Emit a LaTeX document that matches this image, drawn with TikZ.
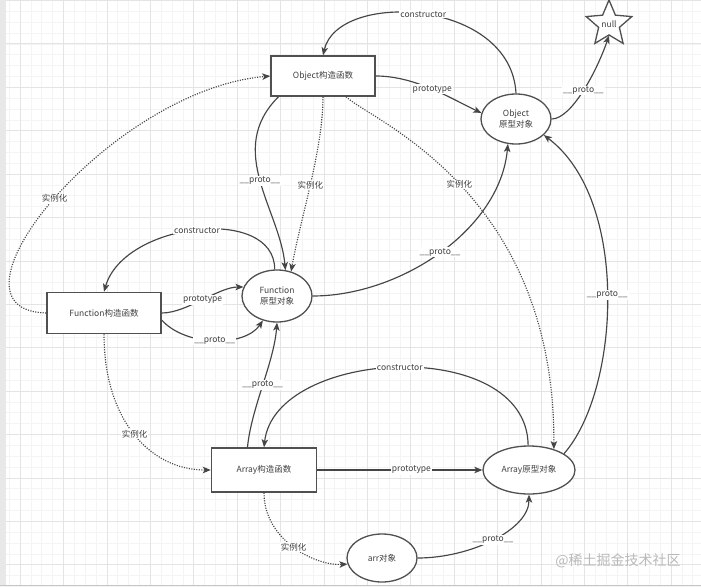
\documentclass[tikz,border=0pt]{standalone}
\usepackage{fontspec}
\setmainfont{Noto Sans CJK SC}
\usetikzlibrary{arrows.meta,shapes.geometric}
\definecolor{ln}{HTML}{454545}
\definecolor{bd}{HTML}{505050}
\definecolor{txt}{HTML}{404040}
\definecolor{gmin}{HTML}{F4F4F4}
\definecolor{gmaj}{HTML}{E4E4E4}
\tikzset{
  box/.style={draw=bd, line width=1.5pt, rectangle, inner sep=0pt, fill=white,
    font=\fontsize{8.5}{10.5}\selectfont, text=txt, align=center},
  oval/.style={draw=bd, line width=1.3pt, ellipse, inner sep=0pt, fill=white,
    font=\fontsize{8.5}{10.5}\selectfont, text=txt, align=center},
  nullstar/.style={draw=bd, line width=1.3pt, star, star points=5, star point ratio=2.2,
    minimum size=48pt, inner sep=0pt, fill=white, font=\fontsize{8.5}{10.5}\selectfont, text=txt},
  lbl/.style={fill=white, inner sep=1pt, font=\fontsize{8.5}{10}\selectfont, text=txt},
  edge/.style={draw=ln, line width=1.15pt, -{Stealth[length=8pt,width=6.5pt,inset=2pt]}},
  dotedge/.style={edge, dash pattern=on 1.1pt off 1.4pt},
}
\begin{document}
\begin{tikzpicture}[x=1pt,y=-1pt]
\useasboundingbox (0,0) rectangle (701,586);
\fill[white] (0,0) rectangle (701,586);
\begin{scope}
\clip (0,0) rectangle (701,586);
\foreach \i in {0,...,68} {\draw[gmin, line width=0.5pt] ({-23.4+\i*10.85},0) -- ++(0,586);}
\foreach \i in {0,...,55} {\draw[gmin, line width=0.5pt] (0,{0.4+\i*10.85}) -- ++(701,0);}
\foreach \i in {0,...,17} {\draw[gmaj, line width=0.6pt] ({-23.4+\i*43.4},0) -- ++(0,586);}
\foreach \i in {0,...,14} {\draw[gmaj, line width=0.6pt] (0,{0.4+\i*43.4}) -- ++(701,0);}
\end{scope}
\fill[gray!18] (0,0) rectangle (6,586);
\draw[gray!45, line width=1pt] (0,585) -- (701,585);

% nodes
\node[box, minimum width=104pt, minimum height=40pt] (objc) at (323,76) {Object构造函数};
\node[oval, minimum width=70pt, minimum height=50pt] (objp) at (516,119) {Object\\原型对象};
\node[nullstar] (null) at (609,24) {null};
\node[box, minimum width=114pt, minimum height=41pt] (funcc) at (104,313) {Function构造函数};
\node[oval, minimum width=70pt, minimum height=52pt] (funcp) at (277,296) {Function\\原型对象};
\node[box, minimum width=105pt, minimum height=44pt] (arrc) at (264,470) {Array构造函数};
\node[oval, minimum width=92pt, minimum height=48pt] (arrp) at (529,470) {Array原型对象};
\node[oval, minimum width=70pt, minimum height=48pt] (arr) at (382,558) {arr对象};
\node[text=gray!55, font=\fontsize{14}{16}\selectfont] (wm) at (618,561) {@稀土掘金技术社区};

% connectors
\draw[edge] (objp.north) .. controls +(-5,-95) and +(15,-65) .. node[lbl,pos=0.5]{constructor} (objc.north);
\draw[edge] (objc.east) .. controls +(40,0) and +(-30,-14) .. node[lbl,pos=0.5]{prototype} (objp.170);
\draw[edge] (objp.east) .. controls +(20,0) and +(-12,35) .. node[lbl,pos=0.5]{\_\_proto\_\_} (null.south);
\draw[edge] (objc.205) .. controls (225,150) and (280,210) .. node[lbl,pos=0.5]{\_\_proto\_\_} (funcp.72);
\draw[dotedge] (objc.south) .. controls (323,150) and (300,220) .. node[lbl,pos=0.5]{实例化} (funcp.60);
\draw[dotedge] (objc.318) .. controls (370,120) and (555,190) .. node[lbl,pos=0.5]{实例化} (arrp.40);
\draw[dotedge] (funcc.west) .. controls (-70,310) and (110,90) .. node[lbl,pos=0.5]{实例化} (objc.west);
\draw[edge] (funcp.95) .. controls (275,205) and (124,222) .. node[lbl,pos=0.5]{constructor} (funcc.north);
\draw[edge] (funcc.east) .. controls +(25,0) and +(-25,0) .. node[lbl,pos=0.5]{prototype} (funcp.165);
\draw[edge] (funcc.353) .. controls (186,347) and (245,347) .. node[lbl,pos=0.5]{\_\_proto\_\_} (funcp.240);
\draw[edge] (funcp.east) .. controls (400,296) and (500,230) .. node[lbl,pos=0.5]{\_\_proto\_\_} (objp.252);
\draw[edge] (arrc.126) .. controls +(4,-40) and +(-3,40) .. node[lbl,pos=0.5]{\_\_proto\_\_} (funcp.south);
\draw[edge] (arrp.92) .. controls (527,335) and (275,348) .. node[lbl,pos=0.5]{constructor} (arrc.north);
\draw[edge] (arrc.east) -- node[lbl,pos=0.57]{prototype} (arrp.west);
\draw[edge] (arrp.25) .. controls (620,390) and (630,200) .. node[lbl,pos=0.5]{\_\_proto\_\_} (objp.330);
\draw[dotedge] (funcc.south) .. controls (104,420) and (150,470) .. node[lbl,pos=0.5]{实例化} (arrc.west);
\draw[dotedge] (arrc.south) .. controls (264,540) and (315,566) .. node[lbl,pos=0.5]{实例化} (arr.190);
\draw[edge] (arr.east) .. controls (470,558) and (529,530) .. node[lbl,pos=0.5]{\_\_proto\_\_} (arrp.south);
\end{tikzpicture}
\end{document}
